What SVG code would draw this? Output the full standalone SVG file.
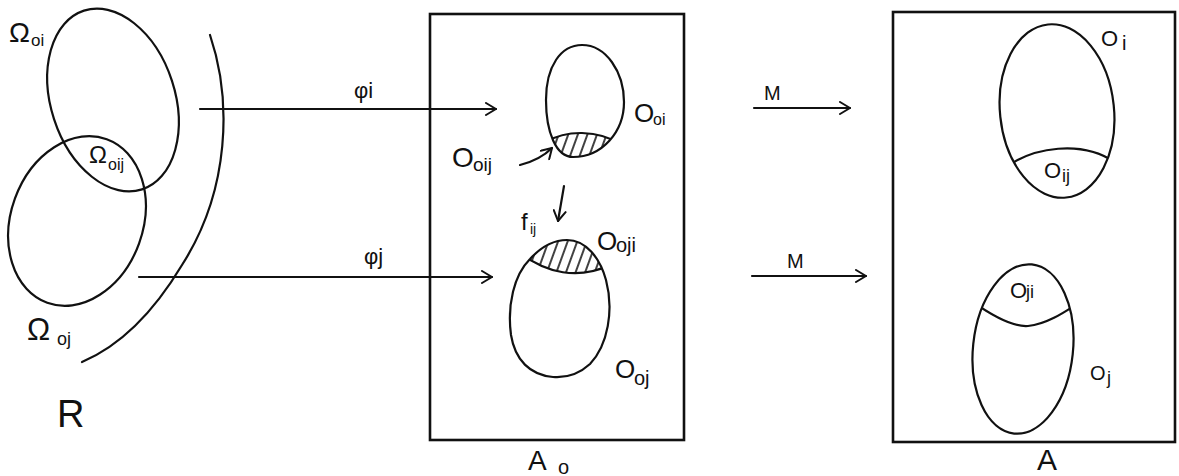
<svg xmlns="http://www.w3.org/2000/svg" width="1179" height="476" viewBox="0 0 1179 476">
<style>
.ln{fill:none;stroke:#111;stroke-width:2.2;stroke-linecap:round;stroke-linejoin:round}
.bx{fill:none;stroke:#111;stroke-width:2.6}
.t{font-family:"Liberation Sans","DejaVu Sans",sans-serif;fill:#111}
.hatch{fill:url(#h);stroke:none}
</style>
<defs>
<pattern id="h" width="9" height="9" patternUnits="userSpaceOnUse" patternTransform="rotate(20)">
<line x1="4" y1="0" x2="4" y2="9" stroke="#111" stroke-width="1.6"/>
</pattern>
<marker id="ar" markerWidth="14" markerHeight="14" refX="12" refY="7" orient="auto" markerUnits="userSpaceOnUse">
<path d="M2,1 L12,7 L2,13" fill="none" stroke="#111" stroke-width="2" stroke-linecap="round" stroke-linejoin="round"/>
</marker>
<clipPath id="c1"><path d="M582,45 C606,45 624,72 624,102 C624,132 602,157 573,157 C556,157 546,132 546,100 C546,66 561,45 582,45 Z"/></clipPath>
<clipPath id="c2"><path d="M567,240 C586,240 600,258 606,280 C614,310 608,345 590,364 C578,375 566,378 553,377 C530,375 515,360 511,335 C507,305 514,275 530,259 C540,248 552,240 567,240 Z"/></clipPath>
<clipPath id="c3"><ellipse cx="1057" cy="111" rx="57" ry="87" transform="rotate(-6 1057 111)"/></clipPath>
<clipPath id="c4"><ellipse cx="1023" cy="349" rx="50" ry="85" transform="rotate(6 1023 349)"/></clipPath>
</defs>

<g id="R">
<ellipse class="ln" cx="113" cy="100" rx="62" ry="94" transform="rotate(-18 113 100)"/>
<ellipse class="ln" cx="77" cy="221" rx="66" ry="87" transform="rotate(20 77 221)"/>
<path class="ln" d="M210,35 C232,100 230,190 182,265 C155,310 122,345 82,362"/>
<text class="t" x="9" y="42" font-size="28">Ω</text><text class="t" x="31" y="46" font-size="17">oi</text>
<text class="t" x="89" y="163" font-size="24">Ω</text><text class="t" x="108" y="170" font-size="16">oij</text>
<text class="t" x="27" y="340" font-size="31">Ω</text><text class="t" x="57" y="345" font-size="18">oj</text>
<text class="t" x="57" y="427" font-size="38">R</text>
</g>

<g id="Ao">
<rect class="bx" x="430" y="14" width="254" height="426"/>
<text class="t" x="528" y="470" font-size="28">A</text><text class="t" x="558" y="474" font-size="20">o</text>
</g>

<g id="Ooi">
<path class="hatch" clip-path="url(#c1)" d="M540,146 C562,129 600,127 630,150 L630,165 L540,165 Z"/>
<path class="ln" d="M582,45 C606,45 624,72 624,102 C624,132 602,157 573,157 C556,157 546,132 546,100 C546,66 561,45 582,45 Z"/>
<path class="ln" clip-path="url(#c1)" d="M540,146 C562,129 600,127 630,150"/>
<text class="t" x="634" y="122" font-size="26">O</text><text class="t" x="653" y="125" font-size="16">oi</text>
<text class="t" x="452" y="167" font-size="28">O</text><text class="t" x="473" y="171" font-size="19">oij</text>
</g>

<g id="Ooj">
<path class="hatch" clip-path="url(#c2)" d="M520,253 C545,272 578,282 614,263 L614,230 L520,230 Z"/>
<path class="ln" d="M567,240 C586,240 600,258 606,280 C614,310 608,345 590,364 C578,375 566,378 553,377 C530,375 515,360 511,335 C507,305 514,275 530,259 C540,248 552,240 567,240 Z"/>
<path class="ln" clip-path="url(#c2)" d="M520,253 C545,272 578,282 614,263"/>
<text class="t" x="597" y="250" font-size="26">O</text><text class="t" x="616" y="252" font-size="20">oji</text>
<text class="t" x="615" y="378" font-size="26">O</text><text class="t" x="634" y="385" font-size="20">oj</text>
</g>

<g id="A">
<rect class="bx" x="893" y="12" width="282" height="430"/>
<text class="t" x="1037" y="470" font-size="30">A</text>
</g>

<g id="Oi">
<ellipse class="ln" cx="1057" cy="111" rx="57" ry="87" transform="rotate(-6 1057 111)"/>
<path class="ln" clip-path="url(#c3)" d="M1000,172 C1030,146 1085,138 1120,166"/>
<text class="t" x="1101" y="46" font-size="22">O</text><text class="t" x="1122" y="50" font-size="20">i</text>
<text class="t" x="1044" y="178" font-size="22">O</text><text class="t" x="1062" y="182" font-size="18">ij</text>
</g>

<g id="Oj">
<ellipse class="ln" cx="1023" cy="349" rx="50" ry="85" transform="rotate(6 1023 349)"/>
<path class="ln" clip-path="url(#c4)" d="M970,300 C995,318 1015,327 1028,326 C1046,324 1062,314 1080,302"/>
<text class="t" x="1010" y="298" font-size="22">O</text><text class="t" x="1026" y="298" font-size="18">ji</text>
<text class="t" x="1090" y="380" font-size="20">O</text><text class="t" x="1107" y="384" font-size="18">j</text>
</g>

<g id="connectors">
<line class="ln" x1="200" y1="109" x2="496" y2="109" marker-end="url(#ar)"/>
<text class="t" x="354" y="98" font-size="22">φi</text>
<line class="ln" x1="139" y1="277" x2="492" y2="277" marker-end="url(#ar)"/>
<text class="t" x="364" y="264" font-size="22">φj</text>
<line class="ln" x1="754" y1="108" x2="850" y2="108" marker-end="url(#ar)"/>
<text class="t" x="764" y="100" font-size="20">M</text>
<line class="ln" x1="752" y1="276" x2="866" y2="276" marker-end="url(#ar)"/>
<text class="t" x="787" y="268" font-size="20">M</text>
<path class="ln" d="M520,165 C532,162 542,158 552,148" marker-end="url(#ar)"/>
<line class="ln" x1="564" y1="186" x2="558" y2="221" marker-end="url(#ar)"/>
<text class="t" x="521" y="230" font-size="24">f</text><text class="t" x="530" y="234" font-size="14">ij</text>
</g>
</svg>
